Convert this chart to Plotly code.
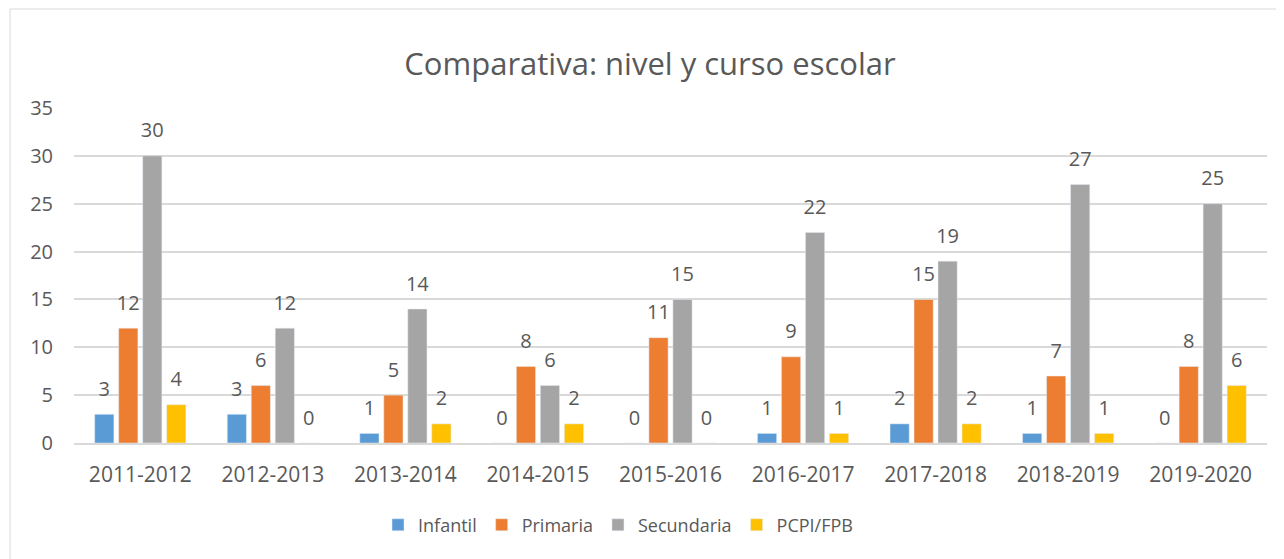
import plotly.graph_objects as go

cursos = ["2011-2012", "2012-2013", "2013-2014", "2014-2015", "2015-2016",
          "2016-2017", "2017-2018", "2018-2019", "2019-2020"]
infantil = [3, 3, 1, 0, 0, 1, 2, 1, 0]
primaria = [12, 6, 5, 8, 11, 9, 15, 7, 8]
secundaria = [30, 12, 14, 6, 15, 22, 19, 27, 25]
pcpi_fpb = [4, 0, 2, 2, 0, 1, 2, 1, 6]

series = [("Infantil", infantil, "#5B9BD5"),
          ("Primaria", primaria, "#ED7D31"),
          ("Secundaria", secundaria, "#A5A5A5"),
          ("PCPI/FPB", pcpi_fpb, "#FFC000")]

FONT = "'Open Sans', sans-serif"
GREY = "#595959"
GAP = 0.276

fig = go.Figure()
for name, vals, col in series:
    fig.add_trace(go.Bar(x=cursos, y=vals, name=name, marker_color=col))
# data labels: invisible grouped scatter points so the label sits a bit above the bar
for name, vals, col in series:
    fig.add_trace(go.Scatter(
        x=cursos, y=vals, mode="markers+text", text=vals, textposition="top center",
        marker=dict(size=20, opacity=0), showlegend=False, hoverinfo="skip",
        cliponaxis=False, textfont=dict(family=FONT, size=20, color=GREY),
    ))

# page body has an 8px margin, so margins are shifted up/left by 8px
fig.update_layout(
    width=1284, height=559,
    margin=dict(l=66, r=25, t=100, b=124),
    paper_bgcolor="white", plot_bgcolor="white",
    barmode="group", bargap=GAP, bargroupgap=0.2,
    scattermode="group", scattergap=GAP,
    title=dict(text="Comparativa: nivel y curso escolar", x=0.5, xanchor="center",
               y=0.9, yanchor="middle",
               font=dict(family=FONT, size=31, color=GREY)),
    font=dict(family=FONT, color=GREY),
    legend=dict(orientation="h", x=0.456, xanchor="center", y=-0.245, yanchor="middle",
                font=dict(family=FONT, size=18, color=GREY),
                itemwidth=30, traceorder="normal"),
    showlegend=True,
)
fig.update_yaxes(range=[0, 35], dtick=5, showgrid=True, gridcolor="#D9D9D9", gridwidth=1.5,
                 zeroline=False, showline=False, ticks="",
                 tickfont=dict(family=FONT, size=20, color=GREY), ticklabelstandoff=20)
fig.update_xaxes(showline=True, linecolor="#D9D9D9", linewidth=1.5, ticks="",
                 tickfont=dict(family=FONT, size=21, color=GREY), ticklabelstandoff=12)

# chart-area border (only left and top edges fall inside the window)
fig.add_shape(type="rect", xref="paper", yref="paper",
              x0=-0.0536, x1=1.02, y0=-0.36, y1=1.2955,
              line=dict(color="#D9D9D9", width=1), fillcolor="rgba(0,0,0,0)", layer="below")

fig.write_html("out.html")
